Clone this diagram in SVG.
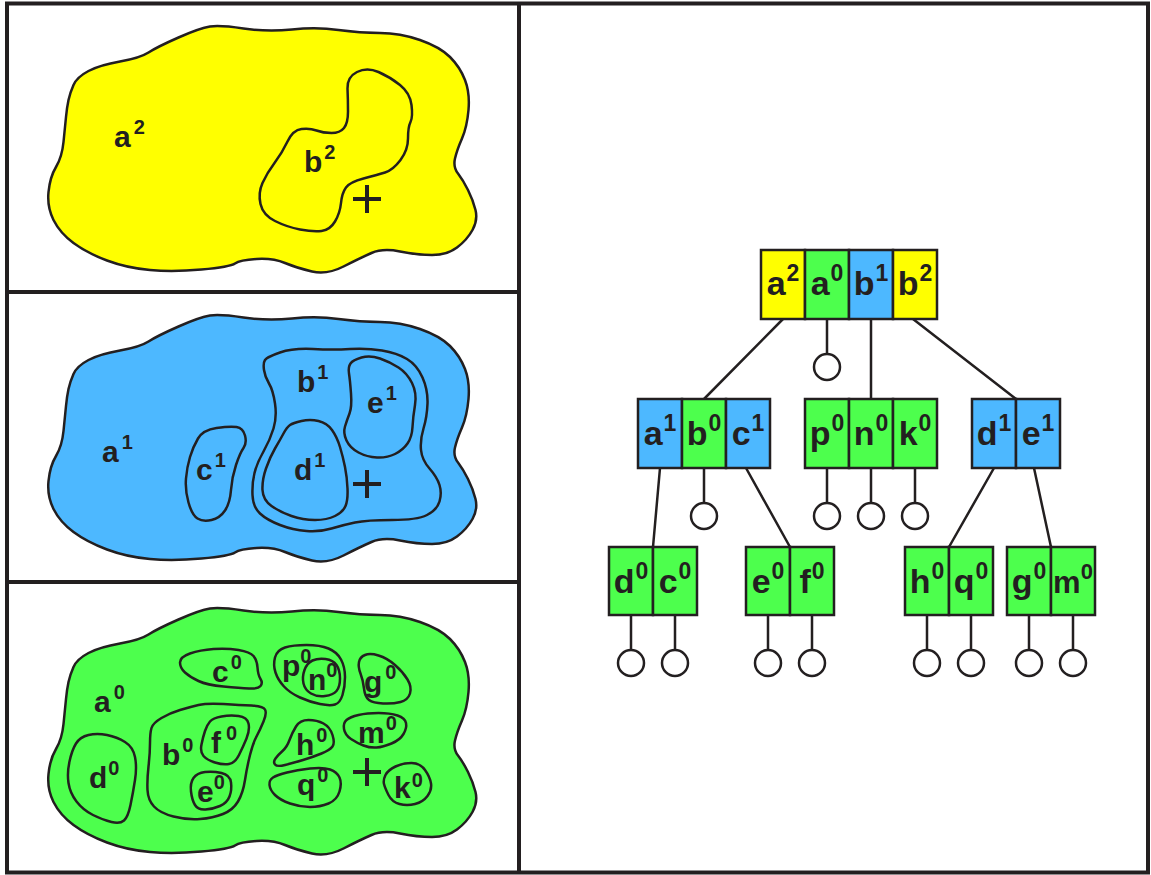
<svg xmlns="http://www.w3.org/2000/svg" xmlns:xlink="http://www.w3.org/1999/xlink" width="1151" height="875" viewBox="0 0 1151 875">
<style>
.ln{stroke:#231f20;stroke-width:2.5;fill:none}
.bl{stroke:#231f20;stroke-width:2.5;stroke-linejoin:round}
.frame{stroke:#231f20;stroke-width:4;fill:none}
.y{fill:#ffff00}
.g{fill:#4dff4d}
.b{fill:#4db8ff}
.cell{stroke:#231f20;stroke-width:2.5}
.nul{fill:#ffffff;stroke:#231f20;stroke-width:2.5}
.lbl{font-family:"Liberation Sans",Arial,sans-serif;font-weight:bold;font-size:30px;fill:#231f20}
.lbl .s{font-size:20px}
.tl{font-family:"Liberation Sans",Arial,sans-serif;font-weight:bold;font-size:34px;fill:#231f20;text-anchor:middle}
.tl .s{font-size:23px}
.plus{stroke:#231f20;stroke-width:4;fill:none}
</style>
<defs>
<path id="outer" d="M68.5,100 Q70,93 73.5,85 Q77,77 88.5,71 Q100,65 120,61.5 Q140,58 148.5,52.5 Q157,47 178.5,37.5 Q200,28 210,26.5 Q220,25 243.5,28.5 Q267,32 292,29.5 Q317,27 338.5,30 Q360,33 380,33 Q400,33 420,40 Q440,47 450,57 Q460,67 465,80 Q470,93 468.5,110 Q467,127 462,138.5 Q457,150 455,158.5 Q453,167 458,173.5 Q463,180 468,190 Q473,200 475.5,210 Q478,220 472.5,230 Q467,240 457,247.5 Q447,255 432,255 Q417,255 400,251.5 Q383,248 371.5,253 Q360,258 343.5,266.5 Q327,275 312,271.5 Q297,268 285,263 Q273,258 256.5,259 Q240,260 235,263.5 Q230,267 201.5,269.5 Q173,272 150,270 Q127,268 107,260.5 Q87,253 73.5,243 Q60,233 53.5,220 Q47,207 48.5,192 Q50,177 56,167 Q62,157 63.5,142 Q65,127 66,117 Q67,107 68.5,100 Z"/>
</defs>
<rect width="1151" height="875" fill="#ffffff"/>

<g id="panel-level2">
<use xlink:href="#outer" href="#outer" class="bl y"/>
<path class="bl y" d="M347.5,88.5 Q347,77 357,72 Q367,67 378.5,72 Q390,77 400,85 Q410,93 411.5,105 Q413,117 410.5,122 Q408,127 408,138.5 Q408,150 400.5,160 Q393,170 385,172.5 Q377,175 363.5,178.5 Q350,182 346,187.5 Q342,193 341,203 Q340,213 335,221.5 Q330,230 321.5,231 Q313,232 300,229.5 Q287,227 275,221 Q263,215 260.5,204 Q258,193 262.5,183 Q267,173 274.5,163 Q282,153 287.5,141.5 Q293,130 301.5,129 Q310,128 316.5,130.5 Q323,133 331.5,133 Q340,133 344,128 Q348,123 348,111.5 Q348,100 347.5,88.5 Z"/>
<text class="lbl" x="114" y="147">a<tspan class="s" dx="3" dy="-13">2</tspan></text>
<text class="lbl" x="304" y="172">b<tspan class="s" dx="2" dy="-13">2</tspan></text>
<path class="plus" d="M353,199H381M367,185V213"/>
</g>

<g id="panel-level1">
<use xlink:href="#outer" href="#outer" class="bl b" transform="translate(0,289)"/>
<path class="bl b" d="M265,360 Q267,357 280,352.5 Q293,348 313,349 Q333,350 350,349 Q367,348 382,350.5 Q397,353 407,359 Q417,365 422.5,377.5 Q428,390 427.5,403.5 Q427,417 423.5,428.5 Q420,440 421,450 Q422,460 429.5,468.5 Q437,477 439.5,485 Q442,493 439.5,501.5 Q437,510 427,515 Q417,520 392,520 Q367,520 355,522.5 Q343,525 331.5,528.5 Q320,532 306.5,531 Q293,530 280,525 Q267,520 260,513.5 Q253,507 252.5,495 Q252,483 254.5,473 Q257,463 263.5,451.5 Q270,440 273.5,428.5 Q277,417 275,403.5 Q273,390 269,383.5 Q265,377 264,370 Q263,363 265,360 Z"/>
<path class="bl b" d="M198,438.5 Q203,430 216.5,428 Q230,426 236.5,427 Q243,428 245,435.5 Q247,443 243.5,448 Q240,453 236,465 Q232,477 231,490 Q230,503 225,510.5 Q220,518 211.5,520 Q203,522 197.5,518.5 Q192,515 188.5,502.5 Q185,490 186,478.5 Q187,467 190,457 Q193,447 198,438.5 Z"/>
<path class="bl b" d="M290,425 Q293,423 301.5,421 Q310,419 318.5,421 Q327,423 332,430 Q337,437 340,447 Q343,457 345,467 Q347,477 347.5,488.5 Q348,500 345.5,506 Q343,512 335,516 Q327,520 315,520 Q303,520 291.5,516 Q280,512 271.5,506 Q263,500 262.5,490 Q262,480 266,468.5 Q270,457 275,448.5 Q280,440 283.5,433.5 Q287,427 290,425 Z"/>
<path class="bl b" d="M350.5,363.5 Q353,360 361.5,357.5 Q370,355 380,358.5 Q390,362 398.5,367.5 Q407,373 412,383 Q417,393 415,405 Q413,417 412.5,427 Q412,437 407.5,443.5 Q403,450 395,454 Q387,458 377,457.5 Q367,457 358.5,452.5 Q350,448 346.5,440.5 Q343,433 345,426.5 Q347,420 349.5,413.5 Q352,407 351,393.5 Q350,380 349,373.5 Q348,367 350.5,363.5 Z"/>
<text class="lbl" x="102" y="462">a<tspan class="s" dx="3" dy="-13">1</tspan></text>
<text class="lbl" x="196" y="480">c<tspan class="s" dx="2" dy="-13">1</tspan></text>
<text class="lbl" x="297" y="392">b<tspan class="s" dx="2" dy="-13">1</tspan></text>
<text class="lbl" x="367" y="413">e<tspan class="s" dx="2" dy="-13">1</tspan></text>
<text class="lbl" x="294" y="480">d<tspan class="s" dx="2" dy="-13">1</tspan></text>
<path class="plus" d="M353,484H381M367,470V498"/>
</g>

<g id="panel-level0">
<use xlink:href="#outer" href="#outer" class="bl g" transform="translate(0,582)"/>
<path class="bl g" d="M180,662.5 Q180,657 190,653.5 Q200,650 213.5,649 Q227,648 238.5,650 Q250,652 253.5,656 Q257,660 257.5,667.5 Q258,675 260.5,679 Q263,683 260.5,686 Q258,689 249,688.5 Q240,688 223.5,686.5 Q207,685 198.5,681 Q190,677 185,672.5 Q180,668 180,662.5 Z"/>
<path class="bl g" d="M275,657.5 Q277,650 285,647.5 Q293,645 306.5,645 Q320,645 328.5,648.5 Q337,652 341,659.5 Q345,667 345,677 Q345,687 342.5,695 Q340,703 335,704.5 Q330,706 320,704 Q310,702 300,697.5 Q290,693 284,686.5 Q278,680 275.5,672.5 Q273,665 275,657.5 Z"/>
<path class="bl g" d="M304.5,670 Q307,663 312.5,660.5 Q318,658 325.5,659 Q333,660 336.5,665 Q340,670 340,678.5 Q340,687 336.5,691 Q333,695 325,696 Q317,697 311,693.5 Q305,690 303.5,683.5 Q302,677 304.5,670 Z"/>
<path class="bl g" d="M359,662 Q360,657 365,655 Q370,653 378.5,655.5 Q387,658 395,665 Q403,672 407.5,679.5 Q412,687 410,693.5 Q408,700 400.5,702 Q393,704 383,703.5 Q373,703 369,700 Q365,697 364,688.5 Q363,680 360.5,673.5 Q358,667 359,662 Z"/>
<path class="bl g" d="M151.5,728 Q153,723 161.5,718 Q170,713 180,710 Q190,707 198.5,705 Q207,703 223.5,704 Q240,705 251.5,705.5 Q263,706 265,709.5 Q267,713 263.5,721.5 Q260,730 256.5,736.5 Q253,743 250,755 Q247,767 245,780 Q243,793 238,801.5 Q233,810 223,814 Q213,818 200,819 Q187,820 173.5,816.5 Q160,813 154,806.5 Q148,800 147.5,790 Q147,780 148.5,766.5 Q150,753 150,743 Q150,733 151.5,728 Z"/>
<path class="bl g" d="M210,721.5 Q213,718 221.5,716.5 Q230,715 238.5,716 Q247,717 248.5,723.5 Q250,730 246.5,738.5 Q243,747 239,755 Q235,763 229,764 Q223,765 215,762.5 Q207,760 203.5,756 Q200,752 201.5,744.5 Q203,737 205,731 Q207,725 210,721.5 Z"/>
<path class="bl g" d="M193.5,778 Q197,773 205,772 Q213,771 221.5,773 Q230,775 231,782.5 Q232,790 229.5,796.5 Q227,803 220,806 Q213,809 205.5,809.5 Q198,810 195,805 Q192,800 191,791.5 Q190,783 193.5,778 Z"/>
<path class="bl g" d="M76,743.5 Q80,737 88.5,735 Q97,733 107,735 Q117,737 125,742 Q133,747 135,757 Q137,767 135,780 Q133,793 130.5,805 Q128,817 124,820.5 Q120,824 111.5,822 Q103,820 93,815 Q83,810 76.5,801.5 Q70,793 68.5,783 Q67,773 69.5,761.5 Q72,750 76,743.5 Z"/>
<path class="bl g" d="M296,726.5 Q300,720 308.5,720 Q317,720 323.5,723.5 Q330,727 332.5,735 Q335,743 332.5,746.5 Q330,750 321.5,753.5 Q313,757 303,760 Q293,763 285,765 Q277,767 275,764.5 Q273,762 275.5,758.5 Q278,755 282.5,751 Q287,747 289.5,740 Q292,733 296,726.5 Z"/>
<path class="bl g" d="M346.5,720 Q350,717 358.5,715 Q367,713 378.5,713 Q390,713 397.5,715.5 Q405,718 406,723 Q407,728 403.5,734 Q400,740 391.5,743.5 Q383,747 376.5,747.5 Q370,748 363.5,745.5 Q357,743 351,739 Q345,735 344,729 Q343,723 346.5,720 Z"/>
<path class="bl g" d="M273,777.5 Q277,775 287,772.5 Q297,770 310,768.5 Q323,767 330,769.5 Q337,772 339.5,777.5 Q342,783 339.5,791.5 Q337,800 328.5,803.5 Q320,807 310,807 Q300,807 290,803.5 Q280,800 275,795 Q270,790 269.5,785 Q269,780 273,777.5 Z"/>
<path class="bl g" d="M385.5,775 Q388,770 395.5,766.5 Q403,763 411.5,763 Q420,763 425,770 Q430,777 431,783.5 Q432,790 427.5,796 Q423,802 415,804 Q407,806 399.5,804 Q392,802 388.5,795 Q385,788 384,784 Q383,780 385.5,775 Z"/>
<text class="lbl" x="94" y="712">a<tspan class="s" dx="3" dy="-13">0</tspan></text>
<text class="lbl" x="212" y="682">c<tspan class="s" dx="2" dy="-13">0</tspan></text>
<text class="lbl" x="282" y="676">p<tspan class="s" dx="0" dy="-13">0</tspan></text>
<text class="lbl" x="308" y="690">n<tspan class="s" dx="0" dy="-13">0</tspan></text>
<text class="lbl" x="364" y="692">g<tspan class="s" dx="3" dy="-13">0</tspan></text>
<text class="lbl" x="162" y="765">b<tspan class="s" dx="2" dy="-13">0</tspan></text>
<text class="lbl" x="211" y="753">f<tspan class="s" dx="5" dy="-13">0</tspan></text>
<text class="lbl" x="197" y="802">e<tspan class="s" dx="0" dy="-13">0</tspan></text>
<text class="lbl" x="89" y="788">d<tspan class="s" dx="1" dy="-13">0</tspan></text>
<text class="lbl" x="296" y="755">h<tspan class="s" dx="2" dy="-13">0</tspan></text>
<text class="lbl" x="358" y="743">m<tspan class="s" dx="1" dy="-13">0</tspan></text>
<text class="lbl" x="297" y="795">q<tspan class="s" dx="2" dy="-13">0</tspan></text>
<text class="lbl" x="394" y="798">k<tspan class="s" dx="1" dy="-11">0</tspan></text>
<path class="plus" d="M353,772H381M367,758V786"/>
</g>

<g id="frame">
<rect class="frame" x="7" y="3.5" width="1141" height="869"/>
<path class="frame" d="M519,3.5V872.5M7,292H519M7,582H519"/>
</g>

<g id="connectors">
<path class="ln" d="M783,319L704,399M871,319V399M913,319L1016,399M660,468L653,547M746,468L790,547M994,468L949,547M1034,468L1051,547"/>
<path class="ln" d="M827,319V354M704,468V503M827,468V503M871,468V503M915,468V503M631,615V650M675,615V650M768,615V650M812,615V650M927,615V650M971,615V650M1029,615V650M1073,615V650"/>
<circle class="nul" cx="827" cy="367" r="13"/>
<circle class="nul" cx="704" cy="516" r="13"/>
<circle class="nul" cx="827" cy="516" r="13"/>
<circle class="nul" cx="871" cy="516" r="13"/>
<circle class="nul" cx="915" cy="516" r="13"/>
<circle class="nul" cx="631" cy="663" r="13"/>
<circle class="nul" cx="675" cy="663" r="13"/>
<circle class="nul" cx="768" cy="663" r="13"/>
<circle class="nul" cx="812" cy="663" r="13"/>
<circle class="nul" cx="927" cy="663" r="13"/>
<circle class="nul" cx="971" cy="663" r="13"/>
<circle class="nul" cx="1029" cy="663" r="13"/>
<circle class="nul" cx="1073" cy="663" r="13"/>
</g>

<g id="node-root">
<rect class="cell y" x="761" y="250" width="44" height="69"/>
<rect class="cell g" x="805" y="250" width="44" height="69"/>
<rect class="cell b" x="849" y="250" width="44" height="69"/>
<rect class="cell y" x="893" y="250" width="44" height="69"/>
<text class="tl" x="783" y="295">a<tspan class="s" dx="1" dy="-14">2</tspan></text>
<text class="tl" x="827" y="295">a<tspan class="s" dx="1" dy="-14">0</tspan></text>
<text class="tl" x="871" y="295">b<tspan class="s" dx="1" dy="-14">1</tspan></text>
<text class="tl" x="915" y="295">b<tspan class="s" dx="1" dy="-14">2</tspan></text>
</g>

<g id="node-a1">
<rect class="cell b" x="638" y="399" width="44" height="69"/>
<rect class="cell g" x="682" y="399" width="44" height="69"/>
<rect class="cell b" x="726" y="399" width="44" height="69"/>
<text class="tl" x="660" y="445">a<tspan class="s" dx="1" dy="-14">1</tspan></text>
<text class="tl" x="704" y="445">b<tspan class="s" dx="1" dy="-14">0</tspan></text>
<text class="tl" x="748" y="445">c<tspan class="s" dx="1" dy="-14">1</tspan></text>
</g>

<g id="node-p0">
<rect class="cell g" x="805" y="399" width="44" height="69"/>
<rect class="cell g" x="849" y="399" width="44" height="69"/>
<rect class="cell g" x="893" y="399" width="44" height="69"/>
<text class="tl" x="827" y="445">p<tspan class="s" dx="1" dy="-14">0</tspan></text>
<text class="tl" x="871" y="445">n<tspan class="s" dx="1" dy="-14">0</tspan></text>
<text class="tl" x="915" y="445">k<tspan class="s" dx="1" dy="-14">0</tspan></text>
</g>

<g id="node-d1">
<rect class="cell b" x="972" y="399" width="44" height="69"/>
<rect class="cell b" x="1016" y="399" width="44" height="69"/>
<text class="tl" x="994" y="445">d<tspan class="s" dx="1" dy="-14">1</tspan></text>
<text class="tl" x="1038" y="445">e<tspan class="s" dx="1" dy="-14">1</tspan></text>
</g>

<g id="node-d0">
<rect class="cell g" x="609" y="547" width="44" height="68"/>
<rect class="cell g" x="653" y="547" width="44" height="68"/>
<text class="tl" x="631" y="593">d<tspan class="s" dx="1" dy="-14">0</tspan></text>
<text class="tl" x="675" y="593">c<tspan class="s" dx="1" dy="-14">0</tspan></text>
</g>

<g id="node-e0">
<rect class="cell g" x="746" y="547" width="44" height="68"/>
<rect class="cell g" x="790" y="547" width="44" height="68"/>
<text class="tl" x="768" y="593">e<tspan class="s" dx="1" dy="-14">0</tspan></text>
<text class="tl" x="812" y="593">f<tspan class="s" dx="1" dy="-14">0</tspan></text>
</g>

<g id="node-h0">
<rect class="cell g" x="905" y="547" width="44" height="68"/>
<rect class="cell g" x="949" y="547" width="44" height="68"/>
<text class="tl" x="927" y="593">h<tspan class="s" dx="1" dy="-14">0</tspan></text>
<text class="tl" x="971" y="593">q<tspan class="s" dx="1" dy="-14">0</tspan></text>
</g>

<g id="node-g0">
<rect class="cell g" x="1007" y="547" width="44" height="68"/>
<rect class="cell g" x="1051" y="547" width="44" height="68"/>
<text class="tl" x="1029" y="593">g<tspan class="s" dx="1" dy="-14">0</tspan></text>
<text class="tl" x="1073" y="593" style="font-size:31px">m<tspan class="s" dx="0" dy="-14" style="font-size:22px">0</tspan></text>
</g>
</svg>
